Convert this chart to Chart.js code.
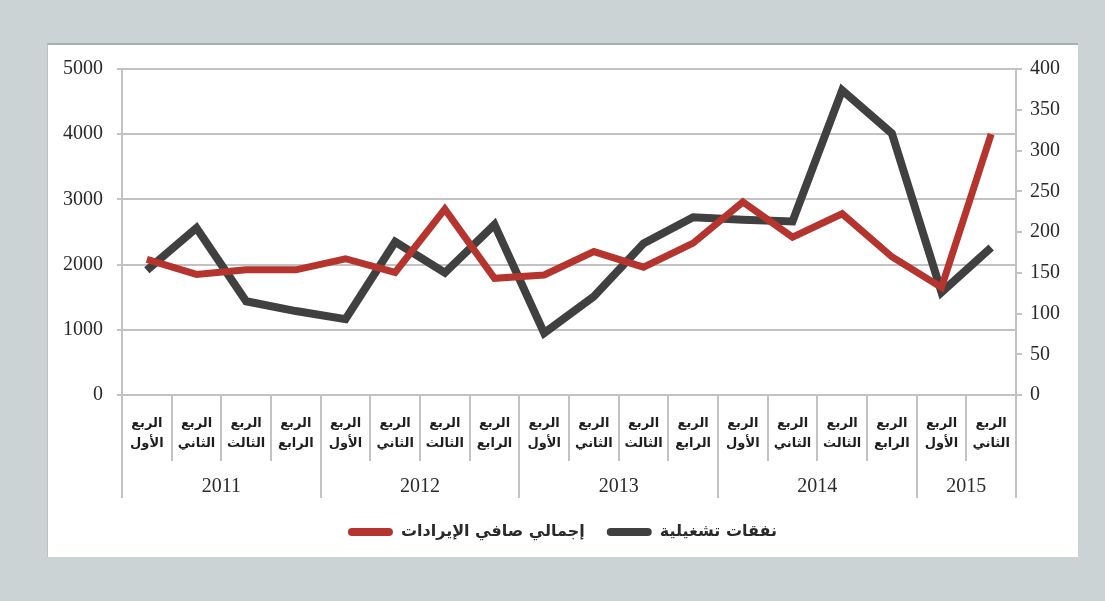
<!DOCTYPE html>
<html>
<head>
<meta charset="utf-8">
<script src="https://cdn.jsdelivr.net/npm/chart.js@4"></script>
<style>
  html, body { margin: 0; padding: 0; }
  body { width: 1105px; height: 601px; background: #ccd3d4; position: relative; overflow: hidden; }
  .panel { position: absolute; left: 47px; top: 43px; width: 1031px; height: 514px; background: #fff;
           box-sizing: border-box; border-top: 2px solid #a9aeaf; border-left: 1px solid #bcc1c2; }
  .wrap { position: absolute; left: 47px; top: 43px; width: 1031px; height: 514px; }
</style>
</head>
<body>
<div class="panel"></div>
<div class="wrap"><canvas id="myChart"></canvas></div>
<script>
const quarters = [
  ['الربع', 'الأول'], ['الربع', 'الثاني'], ['الربع', 'الثالث'], ['الربع', 'الرابع'],
  ['الربع', 'الأول'], ['الربع', 'الثاني'], ['الربع', 'الثالث'], ['الربع', 'الرابع'],
  ['الربع', 'الأول'], ['الربع', 'الثاني'], ['الربع', 'الثالث'], ['الربع', 'الرابع'],
  ['الربع', 'الأول'], ['الربع', 'الثاني'], ['الربع', 'الثالث'], ['الربع', 'الرابع'],
  ['الربع', 'الأول'], ['الربع', 'الثاني']
];
const years = ['2011', '2012', '2013', '2014', '2015'];
const quartersPerYear = [4, 4, 4, 4, 2];

// left axis
const revenue = [2080, 1850, 1920, 1920, 2090, 1880, 2850, 1790, 1840, 2200, 1960, 2330, 2960, 2420, 2780, 2120, 1650, 4000];
// right axis
const opex = [153, 205, 115, 103, 93, 188, 150, 209, 76, 121, 186, 218, 215, 213, 374, 321, 126, 181];

const revenueTicks = [0, 1000, 2000, 3000, 4000, 5000];
const opexTicks = [0, 50, 100, 150, 200, 250, 300, 350, 400];

const lineGrey = '#c2c2c2';
const numFont = { family: 'Liberation Serif', size: 20 };

// quarter separators, year separators and year labels under the x axis
const yearRows = {
  id: 'yearRows',
  afterDraw(chart) {
    const sx = chart.scales.x;
    const ctx = chart.ctx;
    const half = (sx.getPixelForValue(1) - sx.getPixelForValue(0)) / 2;
    const edge = i => i < quarters.length ? sx.getPixelForValue(i) - half : sx.getPixelForValue(quarters.length - 1) + half;

    const yearEdges = [0];
    quartersPerYear.forEach(n => yearEdges.push(yearEdges[yearEdges.length - 1] + n));

    ctx.save();
    ctx.strokeStyle = lineGrey;
    ctx.lineWidth = 2;
    for (let i = 0; i <= quarters.length; i++) {
      const x = Math.round(edge(i));
      const len = yearEdges.includes(i) ? 103 : 66;
      ctx.beginPath();
      ctx.moveTo(x, sx.top);
      ctx.lineTo(x, sx.top + len);
      ctx.stroke();
    }
    ctx.fillStyle = '#2a2a2a';
    ctx.font = numFont.size + 'px ' + numFont.family;
    ctx.textAlign = 'center';
    ctx.textBaseline = 'middle';
    years.forEach((yr, k) => {
      const cx = (edge(yearEdges[k]) + edge(yearEdges[k + 1])) / 2;
      ctx.fillText(yr, cx, sx.top + 92);
    });
    ctx.restore();
  }
};

const ctx = document.getElementById('myChart');

new Chart(ctx, {
  type: 'line',
  data: {
    labels: quarters,
    datasets: [
      {
        label: 'إجمالي صافي الإيرادات',
        data: revenue,
        yAxisID: 'y',
        borderColor: '#b5352e',
        backgroundColor: '#b5352e',
        borderWidth: 7,
        pointRadius: 0,
        tension: 0
      },
      {
        label: 'نفقات تشغيلية',
        data: opex,
        yAxisID: 'y1',
        borderColor: '#404040',
        backgroundColor: '#404040',
        borderWidth: 8,
        pointRadius: 0,
        tension: 0
      }
    ]
  },
  options: {
    responsive: true,
    maintainAspectRatio: false,
    animation: false,
    layout: { padding: { top: 26, bottom: 7, left: 0, right: 0 } },
    scales: {
      x: {
        offset: true,
        grid: { display: false },
        border: { display: false },
        ticks: {
          padding: 11,
          maxRotation: 0,
          autoSkip: false,
          color: '#1e1e1e',
          font: { family: 'DejaVu Sans', size: 13, weight: 'bold', lineHeight: 1.5 }
        },
        afterFit(scale) { scale.height = 107; }
      },
      y: {
        position: 'left',
        min: 0,
        max: 5000,
        afterBuildTicks(scale) { scale.ticks = revenueTicks.map(v => ({ value: v })); },
        grid: { color: lineGrey, lineWidth: 2, tickLength: 5 },
        border: { color: lineGrey, width: 2 },
        ticks: { padding: 14, color: '#2a2a2a', font: numFont, callback: v => String(v) },
        afterFit(scale) { scale.width = 75; }
      },
      y1: {
        position: 'right',
        min: 0,
        max: 400,
        afterBuildTicks(scale) { scale.ticks = opexTicks.map(v => ({ value: v })); },
        grid: { drawOnChartArea: false, color: lineGrey, lineWidth: 2, tickLength: 6 },
        border: { color: lineGrey, width: 2 },
        ticks: { padding: 8, color: '#2a2a2a', font: numFont, callback: v => String(v) },
        afterFit(scale) { scale.width = 62; }
      }
    },
    plugins: {
      legend: {
        display: true,
        position: 'bottom',
        labels: {
          boxWidth: 45,
          boxHeight: 8,
          useBorderRadius: true,
          borderRadius: 4,
          padding: 22,
          color: '#2a2a2a',
          font: { family: 'DejaVu Sans', size: 16, weight: 'bold' },
          generateLabels(chart) {
            return Chart.defaults.plugins.legend.labels.generateLabels(chart)
              .map(item => ({ ...item, lineWidth: 0, fillStyle: item.strokeStyle }));
          }
        }
      },
      tooltip: { enabled: false }
    }
  },
  plugins: [yearRows]
});
</script>
</body>
</html>
